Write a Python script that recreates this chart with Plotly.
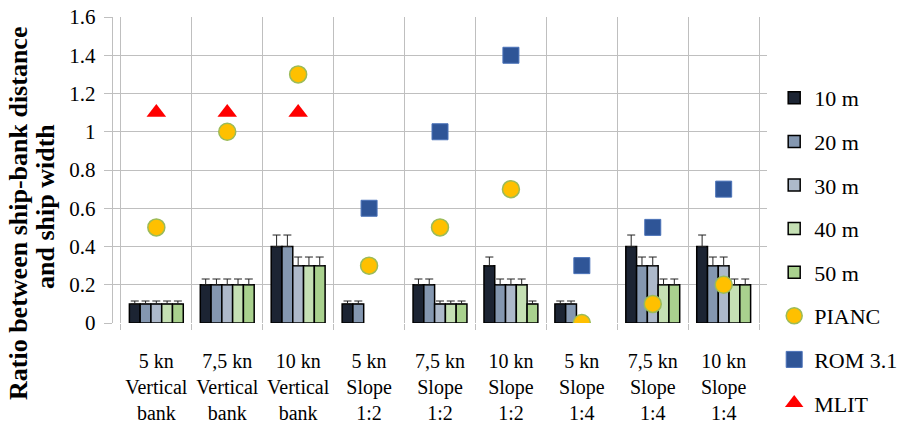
import plotly.graph_objects as go

categories = ["5 kn<br>Vertical<br>bank", "7,5 kn<br>Vertical<br>bank", "10 kn<br>Vertical<br>bank",
              "5 kn<br>Slope<br>1:2", "7,5 kn<br>Slope<br>1:2", "10 kn<br>Slope<br>1:2",
              "5 kn<br>Slope<br>1:4", "7,5 kn<br>Slope<br>1:4", "10 kn<br>Slope<br>1:4"]

bar_names = ["10 m", "20 m", "30 m", "40 m", "50 m"]
v10 = [0.1, 0.2, 0.4, 0.1, 0.2, 0.3, 0.1, 0.4, 0.4]
v20 = [0.1, 0.2, 0.4, 0.1, 0.2, 0.2, 0.1, 0.3, 0.3]
v30 = [0.1, 0.2, 0.3, None, 0.1, 0.2, None, 0.3, 0.3]
v40 = [0.1, 0.2, 0.3, None, 0.1, 0.2, None, 0.2, 0.2]
v50 = [0.1, 0.2, 0.3, None, 0.1, 0.1, None, 0.2, 0.2]
e10 = [0.015, 0.03, 0.06, 0.015, 0.03, 0.045, 0.015, 0.06, 0.06]
e20 = [0.015, 0.03, 0.06, 0.015, 0.03, 0.03, 0.015, 0.045, 0.045]
e30 = [0.015, 0.03, 0.045, 0, 0.015, 0.03, 0, 0.045, 0.045]
e40 = [0.015, 0.03, 0.045, 0, 0.015, 0.03, 0, 0.03, 0.03]
e50 = [0.015, 0.03, 0.045, 0, 0.015, 0.015, 0, 0.03, 0.03]
bar_colors = ["#1c2433", "#8497b0", "#adb9ca", "#c5e0b4", "#a9d18e"]

pianc = [0.5, 1.0, 1.3, 0.3, 0.5, 0.7, 0.0, 0.1, 0.2]
rom31 = [None, None, None, 0.6, 1.0, 1.4, 0.3, 0.5, 0.7]
mlit = [1.1, 1.1, 1.1, None, None, None, None, None, None]

title_line1 = "Ratio between ship-bank distance"
title_line2 = "and ship width"

font_family = "Times New Roman"

fig = go.Figure()
for name, vals, errs, col in zip(bar_names, [v10, v20, v30, v40, v50],
                                 [e10, e20, e30, e40, e50], bar_colors):
    fig.add_trace(go.Bar(
        x=categories, y=vals, name=name, legendgroup=name,
        marker=dict(color=col, line=dict(color="#000000", width=1.5)),
        error_y=dict(type="data", array=errs, arrayminus=[0]*len(errs), symmetric=False,
                     color="#222222", thickness=1, width=4),
    ))

fig.add_trace(go.Scatter(x=categories, y=pianc, mode="markers", name="PIANC", legendgroup="PIANC",
                         marker=dict(symbol="circle", size=17, color="#ffc000",
                                     line=dict(color="#9bbb59", width=1.5))))
fig.add_trace(go.Scatter(x=categories, y=rom31, mode="markers", name="ROM 3.1", legendgroup="ROM",
                         marker=dict(symbol="square", size=16, color="#2f5597",
                                     line=dict(color="#4a72b8", width=1))))
fig.add_trace(go.Scatter(x=categories, y=mlit, mode="markers", name="MLIT", legendgroup="MLIT",
                         marker=dict(symbol="triangle-up", size=17, color="#ff0000",
                                     line=dict(width=0))))

# y-axis title, drawn as two rotated text lines
fig.add_annotation(text="<b>" + title_line1 + "</b>", xref="paper", yref="paper",
                   x=(19 - 113) / 654, y=(323 - 214) / 306, xanchor="center", yanchor="middle",
                   textangle=-90, showarrow=False, font=dict(family=font_family, size=26, color="#000"))
fig.add_annotation(text="<b>" + title_line2 + "</b>", xref="paper", yref="paper",
                   x=(45 - 113) / 654, y=(323 - 207) / 306, xanchor="center", yanchor="middle",
                   textangle=-90, showarrow=False, font=dict(family=font_family, size=26, color="#000"))

fig.update_layout(
    width=905, height=425,
    margin=dict(l=113, r=138, t=17, b=102, autoexpand=False),
    paper_bgcolor="white", plot_bgcolor="white",
    barmode="group", bargap=0.24, bargroupgap=0,
    font=dict(family=font_family, size=20, color="#000000"),
    showlegend=True,
    legend=dict(x=1.011, y=1 - 77 / 425, xref="paper", yref="container",
                xanchor="left", yanchor="top",
                font=dict(family=font_family, size=22), tracegroupgap=12,
                bgcolor="rgba(0,0,0,0)", maxheight=1),
    xaxis=dict(type="category", tickson="boundaries", showgrid=True, gridcolor="#bfbfbf",
               gridwidth=1.2, ticks="outside", ticklen=6, tickcolor="#bfbfbf", tickangle=0,
               showline=False, tickfont=dict(family=font_family, size=20),
               ticklabelstandoff=24),
    yaxis=dict(range=[0, 1.6], dtick=0.2, showgrid=True, gridcolor="#bfbfbf", gridwidth=1.2,
               ticks="outside", ticklen=8, tickcolor="#bfbfbf", showline=True, linecolor="#bfbfbf",
               zeroline=False, tickfont=dict(family=font_family, size=21), ticksuffix="\u2009"),
)

fig.write_html("out.html")
